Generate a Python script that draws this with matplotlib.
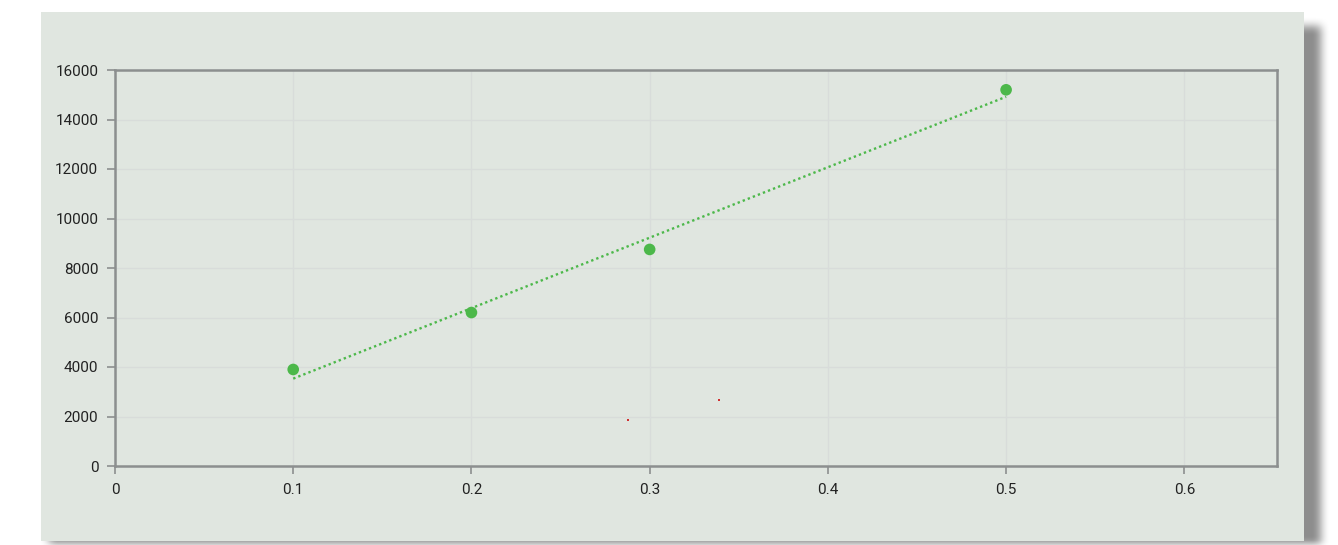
import numpy as np
import matplotlib
matplotlib.use("Agg")
import matplotlib.pyplot as plt
from matplotlib.patches import Rectangle

plt.rcParams['font.family'] = ['Roboto', 'DejaVu Sans']

# measured points
x_vals = [0.1, 0.2, 0.3, 0.5]
y_vals = [3900, 6200, 8750, 15200]

# second, barely visible series
x_small = [0.288, 0.339]
y_small = [1860, 2670]

x_ticks = [0, 0.1, 0.2, 0.3, 0.4, 0.5, 0.6]
x_ticklabels = ['0', '0.1', '0.2', '0.3', '0.4', '0.5', '0.6']
y_ticks = [0, 2000, 4000, 6000, 8000, 10000, 12000, 14000, 16000]

W, H = 1338, 545
fig = plt.figure(figsize=(W / 100, H / 100), dpi=100)
fig.patch.set_facecolor('white')

# panel box in pixels, with a blurred drop shadow behind it
px0, py0, px1, py1 = 41, 12, 1304, 541


def box_blur(a, r):
    for axis in (0, 1):
        c = np.cumsum(np.pad(a, [(r + 1, r) if i == axis else (0, 0) for i in range(2)]), axis=axis)
        if axis == 0:
            a = (c[2 * r + 1:] - c[:-2 * r - 1]) / (2 * r + 1)
        else:
            a = (c[:, 2 * r + 1:] - c[:, :-2 * r - 1]) / (2 * r + 1)
    return a


mask = np.zeros((H, W))
mask[py0 + 14:py1 + 10, px0 + 8:px1 + 17] = 1.0
mask = box_blur(box_blur(mask, 5), 4)
shadow = np.zeros((H, W, 4))
shadow[..., 3] = mask * 0.45
fig.figimage(shadow[::-1], 0, 0, origin='lower', zorder=0)

fig.patches.append(Rectangle((px0 / W, 1 - py1 / H), (px1 - px0) / W, (py1 - py0) / H,
                             transform=fig.transFigure, facecolor='#e0e6e0',
                             edgecolor='none', zorder=1))

ax_l, ax_r, ax_t, ax_b = 115, 1277, 70, 466
ax = fig.add_axes([ax_l / W, 1 - ax_b / H, (ax_r - ax_l) / W, (ax_b - ax_t) / H])
ax.set_facecolor('none')
ax.set_zorder(2)

ax.set_xlim(0, 0.652)
ax.set_ylim(0, 16000)
ax.set_xticks(x_ticks)
ax.set_xticklabels(x_ticklabels)
ax.set_yticks(y_ticks)
ax.grid(True, color='#d8dcda', linewidth=1)
ax.set_axisbelow(True)

for s in ax.spines.values():
    s.set_color('#8c8f8f')
    s.set_linewidth(1.8)
ax.tick_params(axis='both', colors='#8c8f8f', length=6, width=1.2,
               labelcolor='#222222', labelsize=11, pad=6)

# linear trendline through the points
k, b = np.polyfit(x_vals, y_vals, 1)
xt = np.array([min(x_vals), max(x_vals)])
ax.plot(xt, k * xt + b, linestyle=(0, (1, 1.3)), color='#4cb84a', linewidth=1.7)
ax.scatter(x_vals, y_vals, s=70, color='#4cb84a', edgecolors='none', zorder=3)
ax.scatter(x_small, y_small, s=2, marker='s', color='#d03030', edgecolors='none', zorder=3)

fig.savefig('out.png', dpi=100, facecolor='white')
